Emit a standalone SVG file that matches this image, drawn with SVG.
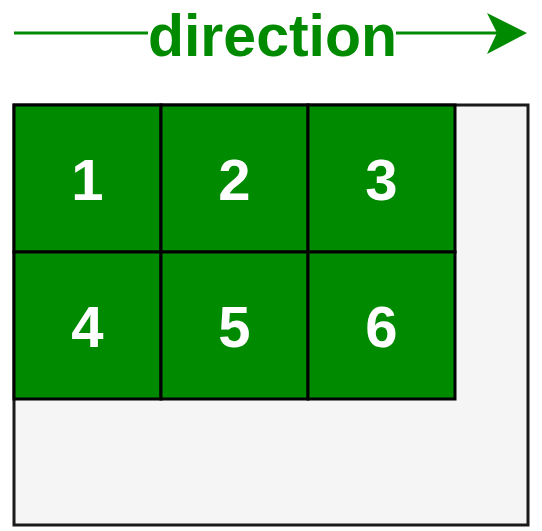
<svg xmlns="http://www.w3.org/2000/svg" width="542" height="531" viewBox="0 0 542 531">
<style>
.cell{fill:#008a00;stroke:#000;stroke-width:3}
.num{font-family:"Liberation Sans",Arial,sans-serif;font-weight:bold;font-size:58px;fill:#fff;text-anchor:middle}
.dir{font-family:"Liberation Sans",Arial,sans-serif;font-weight:bold;font-size:59px;fill:#008a00;text-anchor:middle}
</style>
<rect width="542" height="531" fill="#fff"/>
<g id="container"><rect x="14" y="105" width="514" height="420" fill="#f5f5f5" stroke="#1a1a1a" stroke-width="3"/></g>
<g id="connectors">
<line x1="14" y1="33" x2="148" y2="33" stroke="#008a00" stroke-width="3"/>
<line x1="396" y1="33" x2="500" y2="33" stroke="#008a00" stroke-width="3"/>
<path d="M527 33 L487 13 L497 33 L487 54 Z" fill="#008a00"/>
</g>
<g id="label"><text class="dir" x="272.5" y="56">direction</text></g>
<g id="n1"><rect class="cell" x="14" y="105" width="147" height="147"/><text class="num" x="87.5" y="200">1</text></g>
<g id="n2"><rect class="cell" x="161" y="105" width="147" height="147"/><text class="num" x="234.5" y="200">2</text></g>
<g id="n3"><rect class="cell" x="308" y="105" width="147" height="147"/><text class="num" x="381.5" y="200">3</text></g>
<g id="n4"><rect class="cell" x="14" y="252" width="147" height="147"/><text class="num" x="87.5" y="347">4</text></g>
<g id="n5"><rect class="cell" x="161" y="252" width="147" height="147"/><text class="num" x="234.5" y="347">5</text></g>
<g id="n6"><rect class="cell" x="308" y="252" width="147" height="147"/><text class="num" x="381.5" y="347">6</text></g>
</svg>
